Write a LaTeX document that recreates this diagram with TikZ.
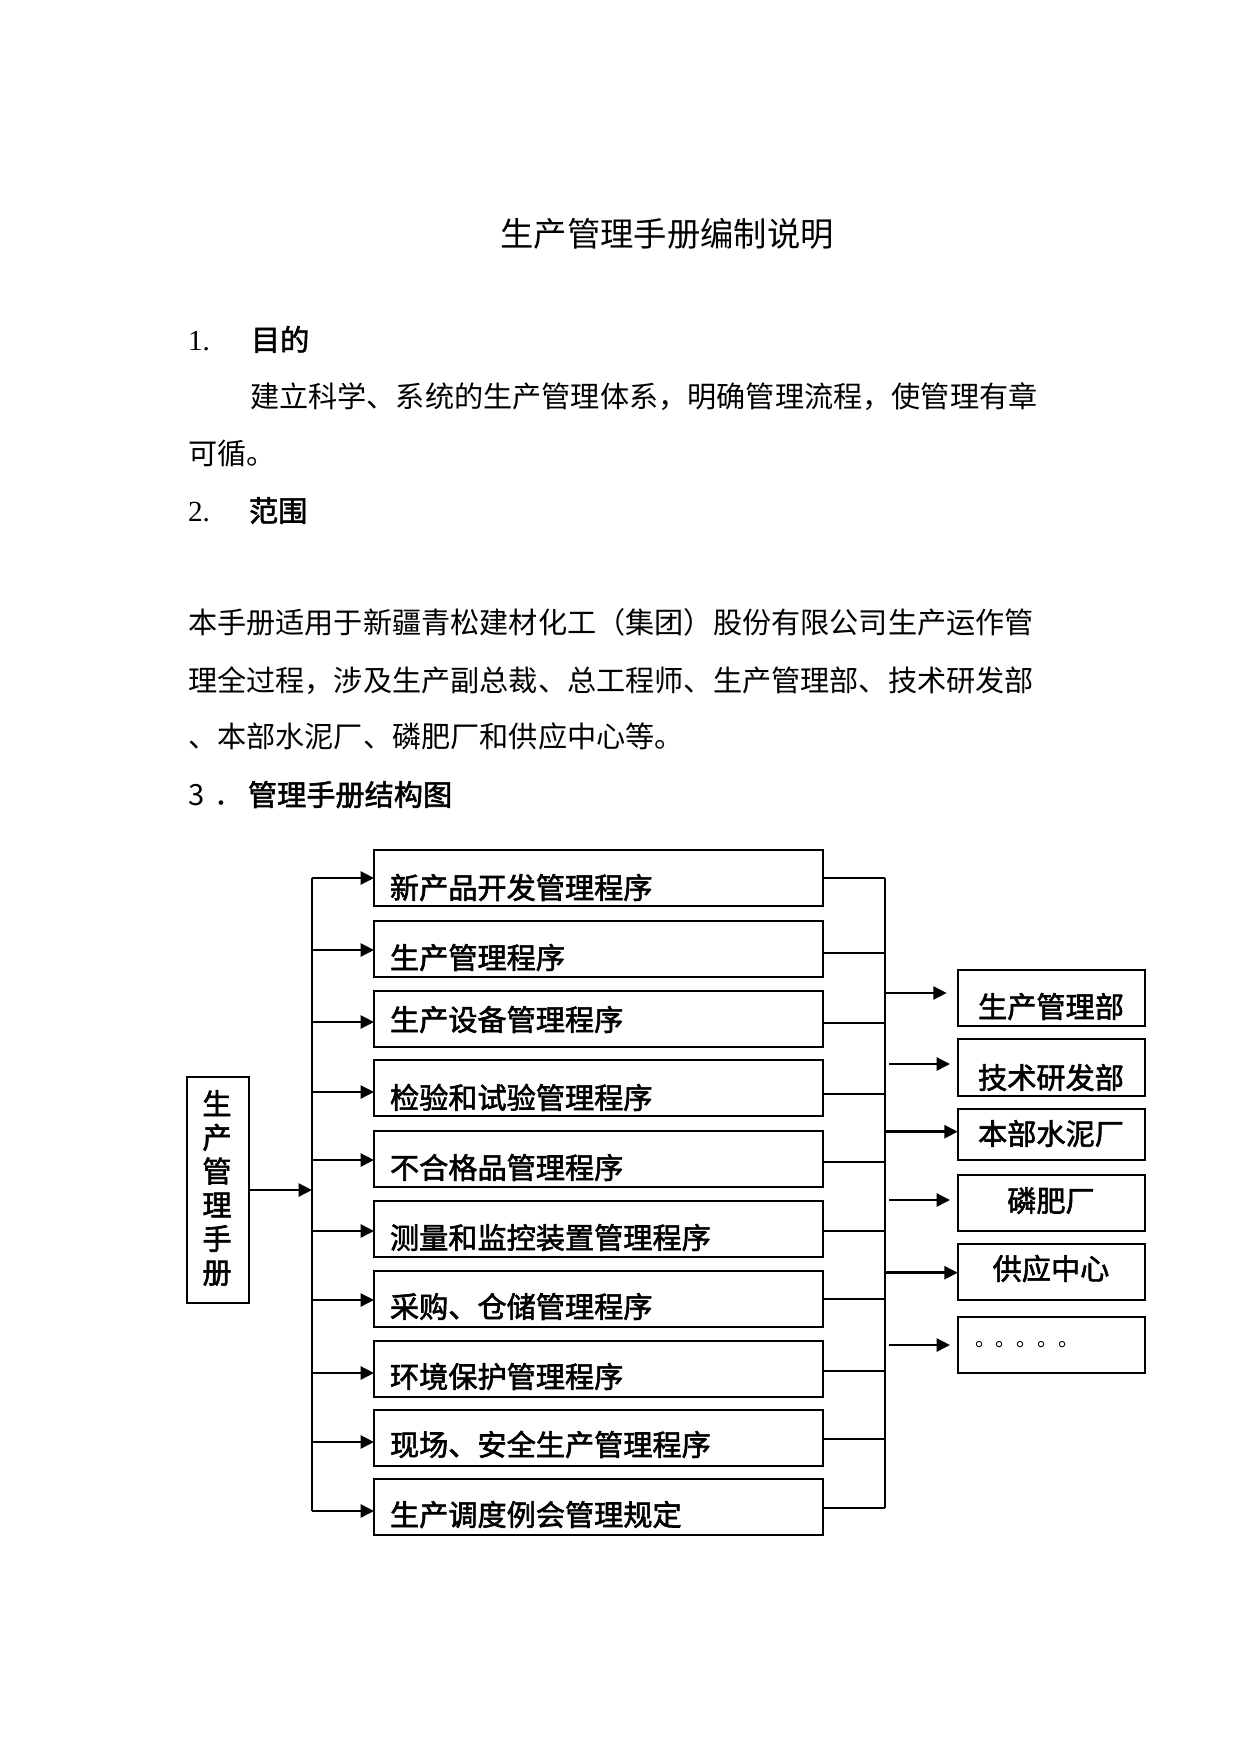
\documentclass[tikz,border=0pt]{standalone}
\usepackage{fontspec}
\setmainfont{Noto Sans CJK SC}
\newfontfamily\serifnum{Liberation Serif}
\newfontfamily\mbold{Noto Sans CJK SC}[FakeBold=2]
\usetikzlibrary{arrows.meta}
\begin{document}
\begin{tikzpicture}[x=0.48pt,y=-0.48pt,
  every node/.style={inner sep=0pt, outer sep=0pt},
  txt/.style={anchor=west, font=\fontsize{14pt}{14pt}\selectfont, text height=0.8em, text depth=0.07em},
  btxt/.style={anchor=west, font=\fontsize{14pt}{14pt}\mbold, text height=0.8em, text depth=0.07em},
  ctxt/.style={anchor=center, font=\fontsize{14pt}{14pt}\mbold, text height=0.8em, text depth=0.07em},
  lbox/.style={draw, line width=1pt, minimum width=215.5pt, minimum height=26.9pt},
  rbox/.style={draw, line width=1pt, minimum width=89.9pt, minimum height=#1},
  arr/.style={line width=1.2pt, -{Triangle[length=6.4pt,width=6.2pt]}},
  thinl/.style={line width=0.5pt},
  busl/.style={line width=1.3pt}
]
\fill[white] (0,0) rectangle (1241,1754);
\useasboundingbox (0,0) rectangle (1241,1754);

% ---------- text ----------
\node[anchor=center, font=\fontsize{16pt}{16pt}\selectfont, text height=0.8em, text depth=0.07em] (title) at (667,239) {生产管理手册编制说明};

\node[txt, font=\fontsize{14pt}{14pt}\serifnum] (n1) at (188,343) {1.};
\node[btxt] (h1) at (251,343) {目的};
\node[txt] (p1) at (250,400) {建立科学、系统的生产管理体系，明确管理流程，使管理有章};
\node[txt] (p2) at (188,457) {可循。};
\node[txt, font=\fontsize{14pt}{14pt}\serifnum] (n2) at (188,514) {2.};
\node[btxt] (h2) at (249,514) {范围};
\node[txt] (p3) at (188,626) {本手册适用于新疆青松建材化工（集团）股份有限公司生产运作管};
\node[txt] (p4) at (188,684) {理全过程，涉及生产副总裁、总工程师、生产管理部、技术研发部};
\node[txt] (p5) at (188,740) {、本部水泥厂、磷肥厂和供应中心等。};
\node[txt] (n3) at (188,798) {3\hspace{5pt}．};
\node[btxt] (h3) at (248,798) {管理手册结构图};

% ---------- left manual box ----------
\node[draw, line width=1pt, minimum width=29.8pt, minimum height=108.5pt] (lb) at (218,1190) {};
\node[anchor=center, align=center, font=\fontsize{14pt}{16.2pt}\mbold] (lbt) at (217,1188) {生\\产\\管\\理\\手\\册};

% ---------- procedure boxes ----------
\node[lbox] (b1)  at (598.5,878)  {};
\node[lbox] (b2)  at (598.5,949)  {};
\node[lbox] (b3)  at (598.5,1019) {};
\node[lbox] (b4)  at (598.5,1088) {};
\node[lbox] (b5)  at (598.5,1159) {};
\node[lbox] (b6)  at (598.5,1229) {};
\node[lbox] (b7)  at (598.5,1299) {};
\node[lbox] (b8)  at (598.5,1369) {};
\node[lbox] (b9)  at (598.5,1438) {};
\node[lbox] (b10) at (598.5,1507) {};

\node[btxt] (t1)  at (390,891)  {新产品开发管理程序};
\node[btxt] (t2)  at (390,961)  {生产管理程序};
\node[btxt] (t3)  at (390,1023) {生产设备管理程序};
\node[btxt] (t4)  at (390,1101) {检验和试验管理程序};
\node[btxt] (t5)  at (390,1171) {不合格品管理程序};
\node[btxt] (t6)  at (390,1241) {测量和监控装置管理程序};
\node[btxt] (t7)  at (390,1310) {采购、仓储管理程序};
\node[btxt] (t8)  at (390,1380) {环境保护管理程序};
\node[btxt] (t9)  at (390,1448) {现场、安全生产管理程序};
\node[btxt] (t10) at (390,1518) {生产调度例会管理规定};

% ---------- department boxes ----------
\node[rbox=26.9pt] (r1) at (1051.4,998)    {};
\node[rbox=27.4pt] (r2) at (1051.4,1067.5) {};
\node[rbox=24.5pt] (r3) at (1051.4,1134.5) {};
\node[rbox=26.9pt] (r4) at (1051.4,1203)   {};
\node[rbox=26.9pt] (r5) at (1051.4,1272)   {};
\node[rbox=26.9pt] (r6) at (1051.4,1345)   {};

\node[ctxt] (u1) at (1051,1010) {生产管理部};
\node[ctxt] (u2) at (1051,1081) {技术研发部};
\node[ctxt] (u3) at (1051,1137) {本部水泥厂};
\node[ctxt] (u4) at (1051,1204) {磷肥厂};
\node[ctxt] (u5) at (1051,1272) {供应中心};
\node[anchor=base west, font=\fontsize{10pt}{10pt}\selectfont] (u6) at (975,1346) {。。。。。};

% ---------- connectors ----------
\coordinate (trunkT) at (312,878);
\coordinate (trunkB) at (312,1511);
\coordinate (busT) at (885,878);
\coordinate (busB) at (885,1508);

\draw[line width=1.4pt] (trunkT) -- (trunkB);
\draw[arr] (lb.east) -- (lb.east -| trunkT);

\foreach \b/\d in {b1/0, b2/1, b3/3, b4/4, b5/1, b6/2, b7/1, b8/4, b9/4, b10/4}{
  \draw[arr] ([yshift=-\d*0.48pt]\b.west -| trunkT) -- ([yshift=-\d*0.48pt]\b.west);
}
\foreach \b/\d in {b1/0, b2/4, b3/4, b4/6, b6/2, b7/0, b8/2, b9/1, b10/1}{
  \draw[thinl] ([yshift=-\d*0.48pt]\b.east) -- ([yshift=-\d*0.48pt]\b.east -| busT);
}
\draw[line width=1pt] ([yshift=-3*0.48pt]b5.east) -- ([yshift=-3*0.48pt]b5.east -| busT);
\draw[busl] (busT) -- (busB);

% arrows to departments
\coordinate (g1) at (886,993);
\coordinate (g2) at (889,1064);
\coordinate (g3) at (886,1131.7);
\coordinate (g4) at (889,1200);
\coordinate (g5) at (886,1272.7);
\coordinate (g6) at (889,1345);
\draw[arr] (g1) -- ([xshift=-5.3pt]r1.west |- g1);
\draw[arr] (g2) -- ([xshift=-3.7pt]r2.west |- g2);
\draw[arr] (g3) -- (r3.west |- g3);
\draw[arr] (g4) -- ([xshift=-3.7pt]r4.west |- g4);
\draw[arr] (g5) -- (r5.west |- g5);
\draw[arr] (g6) -- ([xshift=-3.7pt]r6.west |- g6);
\end{tikzpicture}
\end{document}
